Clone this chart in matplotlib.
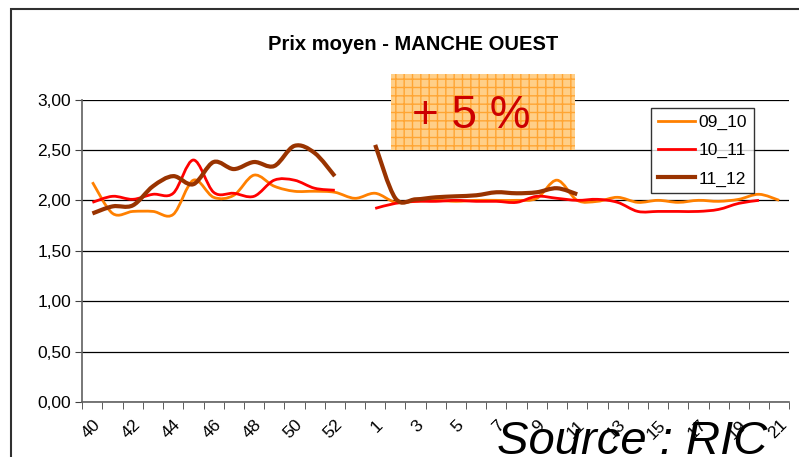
import numpy as np
import matplotlib.pyplot as plt
from matplotlib.path import Path
from matplotlib.patches import PathPatch, Rectangle
from matplotlib.lines import Line2D

plt.rcParams['font.family'] = ['Liberation Sans', 'DejaVu Sans']
plt.rcParams['hatch.color'] = '#FFA533'

# semaines de la campagne (2009 a 53 semaines)
weeks = list(range(40, 54)) + list(range(1, 22))
nan = np.nan

s_09_10 = [2.18, 1.87, 1.89, 1.89, 1.86, 2.20, 2.03, 2.05, 2.25, 2.14, 2.09, 2.09, 2.08, 2.02,
           2.07, 1.98, 1.99, 2.00, 1.99, 2.00, 2.00, 2.00, 2.02, 2.20, 2.00, 1.99, 2.03, 1.98,
           2.00, 1.98, 2.00, 1.99, 2.01, 2.06, 2.00]
s_10_11 = [1.98, 2.04, 2.01, 2.06, 2.07, 2.40, 2.08, 2.07, 2.04, 2.20, 2.20, 2.12, 2.10, nan,
           1.92, 1.97, 1.99, 1.99, 2.00, 1.99, 1.99, 1.98, 2.04, 2.02, 2.00, 2.01, 1.98, 1.89,
           1.89, 1.89, 1.89, 1.91, 1.97, 2.00, nan]
s_11_12 = [1.87, 1.94, 1.95, 2.14, 2.24, 2.16, 2.38, 2.31, 2.38, 2.34, 2.54, 2.47, 2.24, nan,
           2.55, 2.02, 2.01, 2.03, 2.04, 2.05, 2.08, 2.07, 2.08, 2.12, 2.06, nan, nan, nan,
           nan, nan, nan, nan, nan, nan, nan]

series = [('09_10', s_09_10, '#FF8000', 2.0),
          ('10_11', s_10_11, '#FF0000', 2.0),
          ('11_12', s_11_12, '#993300', 3.0)]


def smooth_path(x, y):
    # courbe lissee facon Excel (Bezier passant par les points)
    verts, codes = [], []
    x = np.asarray(x, float)
    y = np.asarray(y, float)
    ok = np.isfinite(y)
    i = 0
    while i < len(y):
        if not ok[i]:
            i += 1
            continue
        j = i
        while j + 1 < len(y) and ok[j + 1]:
            j += 1
        pts = np.column_stack([x[i:j + 1], y[i:j + 1]])
        n = len(pts)
        verts.append(pts[0]); codes.append(Path.MOVETO)
        for k in range(n - 1):
            p0 = pts[k - 1] if k > 0 else pts[k]
            p1, p2 = pts[k], pts[k + 1]
            p3 = pts[k + 2] if k + 2 < n else pts[k + 1]
            verts += [p1 + (p2 - p0) / 6, p2 - (p3 - p1) / 6, p2]
            codes += [Path.CURVE4] * 3
        i = j + 1
    return Path(verts, codes)


fig = plt.figure(figsize=(7.99, 4.57), dpi=100)
ax = fig.add_axes([82.3 / 799, 55 / 457, 707 / 799, 302.5 / 457])

xs = np.arange(len(weeks))
handles = []
for name, vals, col, lw in series:
    ax.add_patch(PathPatch(smooth_path(xs, vals), fill=False, edgecolor=col, lw=lw,
                           capstyle='butt', joinstyle='round', zorder=3))
    handles.append(Line2D([], [], color=col, lw=lw, label=name))

ax.set_xlim(-0.5, len(weeks) - 0.5)
ax.set_ylim(0, 3)
ax.set_yticks(np.arange(0, 3.01, 0.5))
ax.set_yticklabels([f'{v:.2f}'.replace('.', ',') for v in np.arange(0, 3.01, 0.5)], fontsize=12.5)
ax.yaxis.grid(True, color='black', lw=0.9)
ax.set_axisbelow(True)

ax.set_xticks(xs)
ax.set_xticklabels([str(w) if i % 2 == 0 else '' for i, w in enumerate(weeks)],
                   rotation=45, ha='right', va='top', rotation_mode='anchor', fontsize=12.5)
ax.tick_params(axis='x', which='major', length=0, pad=11)
ax.set_xticks(np.arange(-0.5, len(weeks)), minor=True)
ax.tick_params(axis='x', which='minor', length=5, color='#404040', direction='out')
ax.tick_params(axis='y', length=5, color='#404040', pad=3)

for s in ['top', 'right']:
    ax.spines[s].set_visible(False)
for s in ['left', 'bottom']:
    ax.spines[s].set_color('#606060')
    ax.spines[s].set_linewidth(1.2)

leg = ax.legend(handles=handles, loc='upper left', bbox_to_anchor=(0.805, 0.973),
                fontsize=12.5, frameon=True, fancybox=False, handlelength=2.1,
                handletextpad=0.2, labelspacing=0.75, borderpad=0.4, borderaxespad=0)
leg.get_frame().set_edgecolor('black')
leg.get_frame().set_linewidth(1.0)

fig.text(413 / 799, 1 - 45 / 457, 'Prix moyen - MANCHE OUEST', ha='center', va='center',
         fontsize=14.5, fontweight='bold')

# encadre "+ 5 %"
fig.add_artist(Rectangle((391 / 799, 1 - 150 / 457), 184 / 799, 76 / 457,
                         transform=fig.transFigure, facecolor='#FFCF88', edgecolor='#FFA533',
                         hatch='++', lw=0, zorder=4))
fig.text(471 / 799, 1 - 116 / 457, '+ 5 %', ha='center', va='center', fontsize=33,
         color='#CC0000', zorder=5)

fig.text(497 / 799, 3 / 457, 'Source : RIC', ha='left', va='baseline', fontsize=34,
         fontstyle='italic', zorder=6)

# cadre du graphique
fig.add_artist(Rectangle((11 / 799, -0.2), 1.0, 1 - 9 / 457 + 0.2, transform=fig.transFigure,
                         fill=False, edgecolor='#303030', lw=1.5))

fig.savefig('out.png', dpi=100)
